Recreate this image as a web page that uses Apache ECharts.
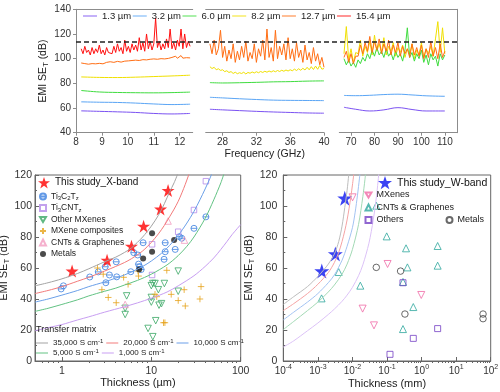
<!DOCTYPE html>
<html><head><meta charset="utf-8">
<script src="https://cdn.jsdelivr.net/npm/echarts@6/dist/echarts.min.js"></script>
<style>html,body{margin:0;padding:0;background:#fff}#c{width:500px;height:392px}</style>
</head><body><div id="c"></div>
<script>
// ---------------- TOP PANEL DATA (frequency GHz, EMI SE dB) ----------------
const freqX = [8.2,8.27,8.34,8.41,8.48,8.55,8.62,8.69,8.76,8.83,8.9,8.97,9.04,9.11,9.18,9.25,9.32,9.39,9.46,9.53,9.6,9.67,9.74,9.81,9.88,9.95,10.02,10.09,10.16,10.23,10.3,10.37,10.44,10.51,10.58,10.65,10.72,10.79,10.86,10.93,11.0,11.07,11.14,11.21,11.28,11.35,11.42,11.49,11.56,11.63,11.7,11.77,11.84,11.91,11.98,12.05,12.12,12.19,12.26,12.33,12.4];
const seX_154 = [108,104,110,105,107,103,109,104,108,105,111,104,107,103,109,105,106,104,110,105,112,106,109,104,115,106,110,105,112,107,111,106,117,107,113,106,120,108,114,107,112,133,109,114,107,112,108,116,109,124,108,113,107,115,110,124,108,120,109,114,110];
const seX_127 = [96.5,97.5,96,97,95.5,97,96,97.5,95.8,96.8,96.2,97.2,95.8,96.5,97,96,97.5,96.2,97,96.5,97.8,96.5,97.2,96.8,98,97,98.2,97.2,98.5,97.5,98.8,97.8,98.5,98,99.2,98.2,99,98.5,99.5,98.5,99.8,98.8,99.5,99,100,99,99.8,99.2,100.2,99.4,101,100,102,100.3,101.2,102.5,100.4,101.5,100.8,101.8,100.6];
const freqXs = [8.2,8.9,9.6,10.3,11.0,11.7,12.4];
const seX_13 = [57.7,57.3,56.9,56.4,55.6,55.2,55.6];
const seX_32 = [65.0,64.7,64.5,64.0,63.3,62.8,63.1];
const seX_60 = [74.2,73.0,72.6,72.4,72.3,72.5,72.9];
const seX_82 = [85.2,84.8,84.7,85.0,85.5,86.0,86.6];

const freqKa = [26.5,26.75,27,27.25,27.5,27.75,28,28.25,28.5,28.75,29,29.25,29.5,29.75,30,30.25,30.5,30.75,31,31.25,31.5,31.75,32,32.25,32.5,32.75,33,33.25,33.5,33.75,34,34.25,34.5,34.75,35,35.25,35.5,35.75,36,36.25,36.5,36.75,37,37.25,37.5,37.75,38,38.25,38.5,38.75,39,39.25,39.5,39.75,40];
const seKa_127 = [112,104,115,103,108,123,101,110,98,107,100,112,97,106,99,110,101,114,98,105,100,112,97,108,102,115,99,124,101,109,98,123,100,110,103,112,99,117,100,108,98,113,101,107,97,111,99,105,96,109,98,104,95,101,93];
const seKa_82 = [93.5,92,93,91,91.8,90.5,91,89.5,90.2,88.8,89.5,88,89,87.8,88.6,88,89,87.6,88.8,88.2,89.2,88.4,89.4,88.6,89.6,88.8,89.8,89,90,89.2,90.2,89.4,90.4,89.6,90.6,89.8,90.8,90,91,90.2,91.5,90.4,91.8,90.6,92.2,90.8,93,91,93.5,91.2,94,91.4,94.5,91.5,92];
const freqKas = [26.5,28,30,32,34,36,38,40];
const seKa_13 = [59.0,58.5,57.9,57.3,56.8,56.4,56.0,55.8];
const seKa_32 = [68.7,68.2,67.5,66.9,66.4,66.2,66.1,66.0];
const seKa_60 = [80.6,80.3,80.5,80.8,81.2,81.4,81.8,82.0];

const freqW = [67,68,69,70,71,72,73,74,75,76,77,78,79,80,81,82,83,84,85,86,87,88,89,90,91,92,93,94,95,96,97,98,99,100,101,102,103,104,105,106,107,108,109,110];
const seW_60 = [100,95,99,94,97,93,99,96,101,98,104,100,107,102,109,103,106,101,108,102,105,99,106,101,104,98,107,125,101,105,98,104,100,107,97,103,95,104,99,102,94,104,99,103];
const seW_82 = [104,126,99,108,97,105,104,115,102,110,105,114,103,119,106,112,105,117,103,110,106,113,102,109,105,111,101,108,104,112,100,107,103,113,101,108,104,110,102,116,130,105,125,104];
const seW_127 = [101,106,97,104,96,102,102,111,104,113,106,118,105,114,107,116,104,112,106,115,103,111,105,113,102,110,104,108,101,112,103,109,102,111,100,108,101,114,102,109,100,112,101,106];
const freqWs = [67,72,78,84,90,96,102,110];
const seW_13 = [60.6,59.0,57.6,58.5,60.3,58.8,57.6,57.6];
const seW_32 = [70.2,70.0,70.3,70.9,71.2,70.6,69.9,69.5];

const thresholdSE = 113.5;
const ticksX = [8,9,10,11,12];
const ticksKa = [28,32,36,40];
const ticksW = [70,80,90,100,110];
const thicknessNames = ['1.3 µm','3.2 µm','6.0 µm','8.2 µm','12.7 µm','15.4 µm'];

// ---------------- BOTTOM-LEFT DATA (thickness µm, SE dB) ----------------
const starX = [[1.3,58],[3.2,65],[6.0,74],[8.2,87],[12.7,98],[15.4,110]];
const ti3c2 = [[0.98,46.5],[1.04,48.5],[2.05,54.2],[2.55,57.5],[3.1,50.5],[3.05,60.8],[3.4,55.5],[4.05,64],[4.1,54.3],[5.9,57.6],[6.36,69.9],[7.05,68.4],[7.4,60.8],[7.7,59],[8.1,76.3],[7.2,62.5],[13.9,65.6],[14.3,70.5],[14.3,76.3],[18.5,72],[20.6,80.2],[21.9,79.2],[30,85.6],[40.8,93]];
const ti3cn = [[10.2,55.5],[10.2,75.3],[20,83.4],[30,97.4],[40.8,116]];
const otherMX = [[5.3,42],[5.1,34],[5.1,30],[9.2,21],[10,48.6],[10.4,50],[11,50],[10,38],[10,41],[10.4,15.7],[11.2,26],[12,46],[12.2,36],[13,37],[14,50],[20,58],[20,45]];
const mxComp = [[2.5,60],[2.9,56],[2.8,46],[3.3,41],[4.05,37.6],[4.9,54],[5.5,49.5],[7.1,58],[7.2,54.8],[11.5,41.5],[11,43],[13.7,24.7],[14.2,24.7],[14.9,58.5],[16.7,43],[20,39],[23.3,46],[24,35.5],[36,48],[35,40]];
const cntX = [[15.4,90.3],[23.5,78],[5.1,36.5]];
const metalsX = [[10.2,82.4],[10.2,70.5],[8.1,66.2],[18,78],[7.3,59]];
const tm35k = [[0.5,48.5],[0.7,50.5],[1,53],[1.5,56.5],[2,59.5],[3,64],[4,67],[5,70],[6,73],[8,80],[10,87],[12,94],[14,101.5],[16,109],[18,115],[20,121.5]];
const tm20k = [[0.5,43.5],[0.7,45.5],[1,48],[1.5,51.5],[2,54],[3,58],[4,61],[5,63.5],[6,66],[8,71],[10,76.5],[12,82],[14,87.5],[16,93],[18,98],[20,103],[22,108.5],[24,114],[26,119.5],[27,122]];
const tm10k = [[0.5,38],[0.7,40],[1,42.5],[1.5,45.5],[2,48],[3,51],[4,53.5],[5,55.5],[6,57.5],[8,61],[10,64.5],[13,69.5],[16,74.5],[20,81],[25,89],[30,96.5],[35,104],[40,111],[45,117.5],[48,121.5]];
const tm5k = [[0.5,32],[0.7,34],[1,36.5],[1.5,39.5],[2,42],[3,45],[4,47],[5,49],[7,52],[10,56],[15,62],[20,68],[25,74],[30,80],[40,92],[50,104],[60,115],[66,122]];
const tm1k = [[0.5,19.5],[0.7,21.5],[1,23.5],[1.5,26.5],[2,28.5],[3,31.5],[5,35],[7,37.5],[10,40.5],[15,44.5],[20,48.5],[30,55],[40,61],[50,66.5],[60,72],[70,77],[80,81.5],[100,88]];
const blMajor = [1,10,100];
const blMinor = [0.6,0.7,0.8,0.9,2,3,4,5,6,7,8,9,20,30,40,50,60,70,80,90];

// ---------------- BOTTOM-RIGHT DATA (thickness mm, SE dB) ----------------
const starW = [[0.0013,58],[0.0032,69],[0.0060,105]];
const mxW = [[0.0101,105.6],[0.104,62.6],[0.0197,33.8],[0.042,23],[0.98,42.6]];
const cntW = [[0.00128,40.4],[0.004,57.4],[0.0169,48.6],[0.049,100.2],[0.098,80.4],[0.355,72.7],[0.39,60.4],[0.29,51],[0.576,34.8],[0.29,20.6],[2.92,74.2],[2.92,61.5]];
const othersW = [[0.29,50.5],[0.576,14.6],[0.122,4.3],[2.92,20.9]];
const metalsW = [[0.049,60.4],[0.247,58],[0.33,30.3],[60,30.3],[60,27.3]];
const wm35k = [[1e-4,36.5],[2e-4,41.5],[5e-4,48],[1e-3,54.5],[1.5e-3,59],[2e-3,62.5],[3e-3,69],[4e-3,77],[5e-3,87],[6e-3,99],[7e-3,110],[7.8e-3,120],[8.1e-3,124]];
const wm20k = [[1e-4,32.5],[2e-4,37],[5e-4,43.5],[1e-3,49.5],[2e-3,57],[3e-3,63.5],[4e-3,70],[5e-3,77],[6e-3,84],[7e-3,91],[8e-3,98.5],[9e-3,106],[1e-2,113.5],[1.1e-2,121]];
const wm10k = [[1e-4,26.5],[2e-4,31.5],[5e-4,38],[1e-3,43.5],[2e-3,50.5],[3e-3,55.5],[5e-3,65],[7e-3,74],[1e-2,86],[1.2e-2,96],[1.4e-2,107],[1.6e-2,118],[1.65e-2,121]];
const wm5k = [[1e-4,20.3],[2e-4,25.5],[5e-4,32.5],[1e-3,38],[2e-3,44.5],[3e-3,49],[5e-3,56],[7e-3,62.5],[1e-2,72],[1.5e-2,88],[2e-2,106],[2.3e-2,117],[2.4e-2,121]];
const wm1k = [[1e-4,9],[2e-4,13],[5e-4,19.5],[1e-3,24.5],[2e-3,30],[3e-3,33.5],[5e-3,38.5],[7e-3,42.5],[1e-2,47.5],[1.5e-2,55],[2e-2,62],[3e-2,76],[4e-2,91],[5e-2,107],[5.8e-2,121]];
const brMajor = [1e-4,1e-3,1e-2,1e-1,1,10,100];
const brMajorLabels = ['-4','-3','-2','-1','0','1','2'];
const brMinor = [2e-4,3e-4,4e-4,5e-4,6e-4,7e-4,8e-4,9e-4,2e-3,3e-3,4e-3,5e-3,6e-3,7e-3,8e-3,9e-3,0.02,0.03,0.04,0.05,0.06,0.07,0.08,0.09,0.2,0.3,0.4,0.5,0.6,0.7,0.8,0.9,2,3,4,5,6,7,8,9,20,30,40,50,60,70,80,90];

// ---------------- CHART ----------------
const FONT = 'Arial, "Liberation Sans", Helvetica, sans-serif';
const zip = (xs, ys) => xs.map((x, i) => [x, ys[i]]);
const COL = {'1.3 µm':'#7b52f2','3.2 µm':'#5aa5f5','6.0 µm':'#3fdc3f','8.2 µm':'#f0e000','12.7 µm':'#ff6e14','15.4 µm':'#ff1010'};
const STAR = 'path://M50,2L61.8,37.6L99,37.6L68.8,59.6L80.4,95L50,73L19.6,95L31.2,59.6L1,37.6L38.2,37.6Z';
const CIRCBAR = 'path://M0,-5A5,5,0,1,1,0,5A5,5,0,1,1,0,-5ZM-5,0L5,0';
const PLUS = 'path://M-5,0L5,0M0,-5L0,5';
const TRI_DOWN = 'path://M0,0L10,0L5,8.66Z';
const topGray = '#8c8c8c', botGray = '#666';

function tl(name, xi, yi, fr, vals, smooth) {
  return {type:'line', name, xAxisIndex:xi, yAxisIndex:yi, data: zip(fr, vals), symbol:'none', showSymbol:false,
    smooth: smooth ? 0.4 : false, lineStyle:{color:COL[name], width:1}, itemStyle:{color:COL[name]}, silent:true};
}
function curve(name, color, xi, yi, data) {
  return {type:'line', name, xAxisIndex:xi, yAxisIndex:yi, data, symbol:'none', showSymbol:false, smooth:0.3,
    lineStyle:{color, width:1}, itemStyle:{color}, silent:true};
}
function sc(name, xi, yi, data, symbol, size, color, border) {
  return {type:'scatter', name, xAxisIndex:xi, yAxisIndex:yi, data, symbol, symbolSize:size,
    itemStyle: border ? {color:'transparent', borderColor:color, borderWidth:1} : {color}, silent:true};
}
const richMap = {'Ti3C2Tz':'Ti{s|3}C{s|2}T{s|z}','Ti3CNTz':'Ti{s|3}CNT{s|z}'};
const legFmt = n => richMap[n] || (n.indexOf('S cm-1') > 0 ? n.replace('S cm-1','S cm{p|-1}') : n.trim());
const subRich = {s:{fontSize:6, verticalAlign:'bottom', lineHeight:5}, p:{fontSize:6, verticalAlign:'top', lineHeight:5}};
const nameRich = {s:{fontSize:7.5, verticalAlign:'bottom', lineHeight:7}};

function valAxis(grid, min, max, extra) {
  return Object.assign({type:'value', gridIndex:grid, min, max, splitLine:{show:false},
    axisLine:{show:true, onZero:false, lineStyle:{color:topGray, width:1}}, axisTick:{show:false}, axisLabel:{show:false}}, extra||{});
}
const tickLblTop = {fontSize:10, color:'#333', margin:5, fontFamily:FONT};

const xAxes = [
  valAxis(0, 8, 12.5, {axisTick:{show:true, length:3, customValues:ticksX, lineStyle:{color:topGray}}, axisLabel:Object.assign({customValues:ticksX}, tickLblTop)}),
  valAxis(0, 8, 12.5, {position:'top'}),
  valAxis(1, 26, 40, {axisTick:{show:true, length:3, customValues:ticksKa, lineStyle:{color:topGray}}, axisLabel:Object.assign({customValues:ticksKa}, tickLblTop),
    name:'Frequency (GHz)', nameLocation:'middle', nameGap:16, nameTextStyle:{fontSize:10.5, color:'#222', fontFamily:FONT}}),
  valAxis(1, 26, 40, {position:'top'}),
  valAxis(2, 65, 115.3, {axisTick:{show:true, length:3, customValues:ticksW, lineStyle:{color:topGray}}, axisLabel:Object.assign({customValues:ticksW}, tickLblTop)}),
  valAxis(2, 65, 115.3, {position:'top'}),
  {type:'value', gridIndex:3, min:0, max:1, show:false},
  {type:'log', logBase:10, gridIndex:4, min:0.5, max:100, splitLine:{show:false},
    axisLine:{show:true, onZero:false, lineStyle:{color:botGray}}, axisTick:{show:true, inside:true, length:4, customValues:blMajor, lineStyle:{color:botGray}},
    axisLabel:{customValues:blMajor, fontSize:10.5, color:'#333', margin:5, fontFamily:FONT},
    name:'Thickness (µm)', nameLocation:'middle', nameGap:15, nameTextStyle:{fontSize:11, color:'#222', fontFamily:FONT}},
  {type:'log', logBase:10, gridIndex:4, min:0.5, max:100, splitLine:{show:false}, axisLine:{show:false},
    axisTick:{show:true, inside:true, length:2, customValues:blMinor, lineStyle:{color:botGray}}, axisLabel:{show:false}},
  {type:'log', logBase:10, gridIndex:5, min:1e-4, max:100, splitLine:{show:false},
    axisLine:{show:true, onZero:false, lineStyle:{color:botGray}}, axisTick:{show:true, inside:true, length:4, customValues:brMajor, lineStyle:{color:botGray}},
    axisLabel:{customValues:brMajor, fontSize:10, color:'#333', margin:3, lineHeight:14, fontFamily:FONT,
      formatter: v => { const i = brMajor.findIndex(t => Math.abs(t - v) / t < 1e-6); return '10{p|' + brMajorLabels[i] + '}'; },
      rich:{p:{fontSize:7, verticalAlign:'top', lineHeight:7}}},
    name:'Thickness (mm)', nameLocation:'middle', nameGap:15, nameTextStyle:{fontSize:11, color:'#222', fontFamily:FONT}},
  {type:'log', logBase:10, gridIndex:5, min:1e-4, max:100, splitLine:{show:false}, axisLine:{show:false},
    axisTick:{show:true, inside:true, length:2, customValues:brMinor, lineStyle:{color:botGray}}, axisLabel:{show:false}}
];
const yName = {name:'EMI SE{s|T} (dB)', nameLocation:'middle', nameRotate:90};
const yAxes = [
  valAxis(0, 40, 140, Object.assign({interval:20, axisTick:{show:true, length:3, lineStyle:{color:topGray}}, axisLabel:tickLblTop,
    nameGap:19, nameTextStyle:{fontSize:10.5, color:'#222', lineHeight:14, fontFamily:FONT, rich:nameRich}}, yName)),
  valAxis(1, 40, 140, {axisLine:{show:false}}),
  valAxis(2, 40, 140, {position:'right'}),
  {type:'value', gridIndex:3, min:40, max:140, show:false},
  Object.assign({type:'value', gridIndex:4, min:0, max:120, interval:20, splitLine:{show:false},
    axisLine:{show:true, onZero:false, lineStyle:{color:botGray}}, axisTick:{show:true, inside:true, length:4, lineStyle:{color:botGray}},
    minorTick:{show:true, splitNumber:2, length:2, lineStyle:{color:botGray}},
    axisLabel:{fontSize:10.5, color:'#333', margin:3, fontFamily:FONT},
    nameGap:20, nameTextStyle:{fontSize:11, color:'#222', lineHeight:14, fontFamily:FONT, rich:nameRich}}, yName),
  Object.assign({type:'value', gridIndex:5, min:0, max:120, interval:20, splitLine:{show:false},
    axisLine:{show:true, onZero:false, lineStyle:{color:botGray}}, axisTick:{show:true, inside:true, length:4, lineStyle:{color:botGray}},
    minorTick:{show:true, splitNumber:2, length:2, lineStyle:{color:botGray}},
    axisLabel:{fontSize:10.5, color:'#333', margin:6, fontFamily:FONT},
    nameGap:22, nameTextStyle:{fontSize:11, color:'#222', lineHeight:14, fontFamily:FONT, rich:nameRich}}, yName)
];
const g = (left, top, width, height, border) => Object.assign({left, top, width, height, containLabel:false, outerBoundsMode:'none'},
  border ? {show:true, borderColor:botGray, borderWidth:1, backgroundColor:'transparent'} : {});
const grids = [g(76,9.3,116.7,123.4), g(205.7,9.3,118.3,123.4), g(339.3,9.3,118,123.4), g(76,9.3,381.3,123.4),
  g(35,175,205.7,186,true), g(283.3,175,207.4,186,true)];

const series = [
  tl('1.3 µm',0,0,freqXs,seX_13,true), tl('3.2 µm',0,0,freqXs,seX_32,true), tl('6.0 µm',0,0,freqXs,seX_60,true),
  tl('8.2 µm',0,0,freqXs,seX_82,true), tl('12.7 µm',0,0,freqX,seX_127), tl('15.4 µm',0,0,freqX,seX_154),
  tl('1.3 µm',2,1,freqKas,seKa_13,true), tl('3.2 µm',2,1,freqKas,seKa_32,true), tl('6.0 µm',2,1,freqKas,seKa_60,true),
  tl('8.2 µm',2,1,freqKa,seKa_82), tl('12.7 µm',2,1,freqKa,seKa_127),
  tl('1.3 µm',4,2,freqWs,seW_13,true), tl('3.2 µm',4,2,freqWs,seW_32,true),
  tl('8.2 µm',4,2,freqW,seW_82), tl('6.0 µm',4,2,freqW,seW_60), tl('12.7 µm',4,2,freqW,seW_127),
  {type:'line', xAxisIndex:6, yAxisIndex:3, data:[[0,thresholdSE],[1,thresholdSE]], symbol:'none', silent:true, z:5,
    lineStyle:{color:'#222', width:1.4, type:[5,3]}},
  curve('35,000 S cm-1','#a3a3a3',7,4,tm35k), curve('20,000 S cm-1','#f27a7a',7,4,tm20k), curve('10,000 S cm-1','#6a9fe8',7,4,tm10k),
  curve('5,000 S cm-1','#62c283',7,4,tm5k), curve('1,000 S cm-1','#c89ef2',7,4,tm1k),
  sc('Ti3C2Tz',7,4,ti3c2,CIRCBAR,6,'#3b7fe0',true),
  sc('Ti3CNTz',7,4,ti3cn,'rect',5.5,'#b48ae8',true),
  sc('Other MXenes',7,4,otherMX,TRI_DOWN,6.5,'#3aa864',true),
  sc('MXene composites',7,4,mxComp,PLUS,6.5,'#e6a21a',true),
  sc('CNTs & Graphenes',7,4,cntX,'triangle',6.5,'#f29cc0',true),
  sc('Metals',7,4,metalsX,'circle',6,'#1e1e1e',false),
  sc('This study_X-band',7,4,starX,STAR,13,'#ff0000',false),
  curve('35,000 S cm-1','#bdbdbd',9,5,wm35k), curve('20,000 S cm-1','#f5a3a3',9,5,wm20k), curve('10,000 S cm-1','#a3c3f2',9,5,wm10k),
  curve('5,000 S cm-1','#a3d9b5',9,5,wm5k), curve('1,000 S cm-1','#dcc2f7',9,5,wm1k),
  sc('MXenes',9,5,mxW,TRI_DOWN,7,'#f06aa6',true),
  sc('CNTs & Graphenes ',9,5,cntW,'triangle',7,'#2ea79e',true),
  sc('Others',9,5,othersW,'rect',6,'#7440c4',true),
  sc('Metals ',9,5,metalsW,'circle',6.5,'#444',true),
  sc('This study_W-band',9,5,starW,STAR,15,'#0a14f0',false)
];

const lg = (o) => Object.assign({padding:0, selectedMode:false, formatter:legFmt, textStyle:{fontFamily:FONT, color:'#222', fontSize:8.5, rich:subRich}}, o);
const legends = [
  lg({data:thicknessNames, left:83, top:11, icon:'rect', itemWidth:14, itemHeight:1.5, itemGap:1.5, itemStyle:{opacity:0.6},
    textStyle:{fontFamily:FONT, color:'#222', fontSize:9.5}}),
  lg({data:['This study_X-band'], left:38, top:177, itemWidth:12, itemHeight:12, textStyle:{fontFamily:FONT, color:'#111', fontSize:10}}),
  lg({data:['Ti3C2Tz','Ti3CNTz','Other MXenes','MXene composites','CNTs & Graphenes','Metals'], orient:'vertical', left:39, top:191.5,
    itemWidth:6, itemHeight:6, itemGap:1.5, textStyle:{fontFamily:FONT, color:'#222', fontSize:8.5, lineHeight:10, rich:subRich}}),
  lg({data:['35,000 S cm-1','20,000 S cm-1','10,000 S cm-1'], left:36, top:338, icon:'rect', itemWidth:12, itemHeight:1, itemGap:3,
    textStyle:{fontFamily:FONT, color:'#222', fontSize:8, lineHeight:10, rich:subRich}}),
  lg({data:['5,000 S cm-1','1,000 S cm-1'], left:36, top:348, icon:'rect', itemWidth:12, itemHeight:1, itemGap:3,
    textStyle:{fontFamily:FONT, color:'#222', fontSize:8, lineHeight:10, rich:subRich}}),
  lg({data:['This study_W-band'], left:378, top:176, itemWidth:14, itemHeight:14, textStyle:{fontFamily:FONT, color:'#111', fontSize:10.5}}),
  lg({data:['MXenes','CNTs & Graphenes ','Others'], orient:'vertical', left:364.5, top:189.5, itemWidth:6, itemHeight:6, itemGap:1.5,
    textStyle:{fontFamily:FONT, color:'#222', fontSize:9, lineHeight:11}}),
  lg({data:['Metals '], left:445.5, top:214.5, itemWidth:6, itemHeight:6, textStyle:{fontFamily:FONT, color:'#222', fontSize:9, lineHeight:11}})
];

const chart = echarts.init(document.getElementById('c'), null, {renderer:'canvas'});
chart.setOption({
  animation:false, backgroundColor:'#fff', textStyle:{fontFamily:FONT},
  title:{text:'Transfer matrix', left:36, top:325, padding:0, textStyle:{fontSize:9, fontWeight:'normal', color:'#222', fontFamily:FONT}},
  grid:grids, xAxis:xAxes, yAxis:yAxes, legend:legends, series
});
</script></body></html>
